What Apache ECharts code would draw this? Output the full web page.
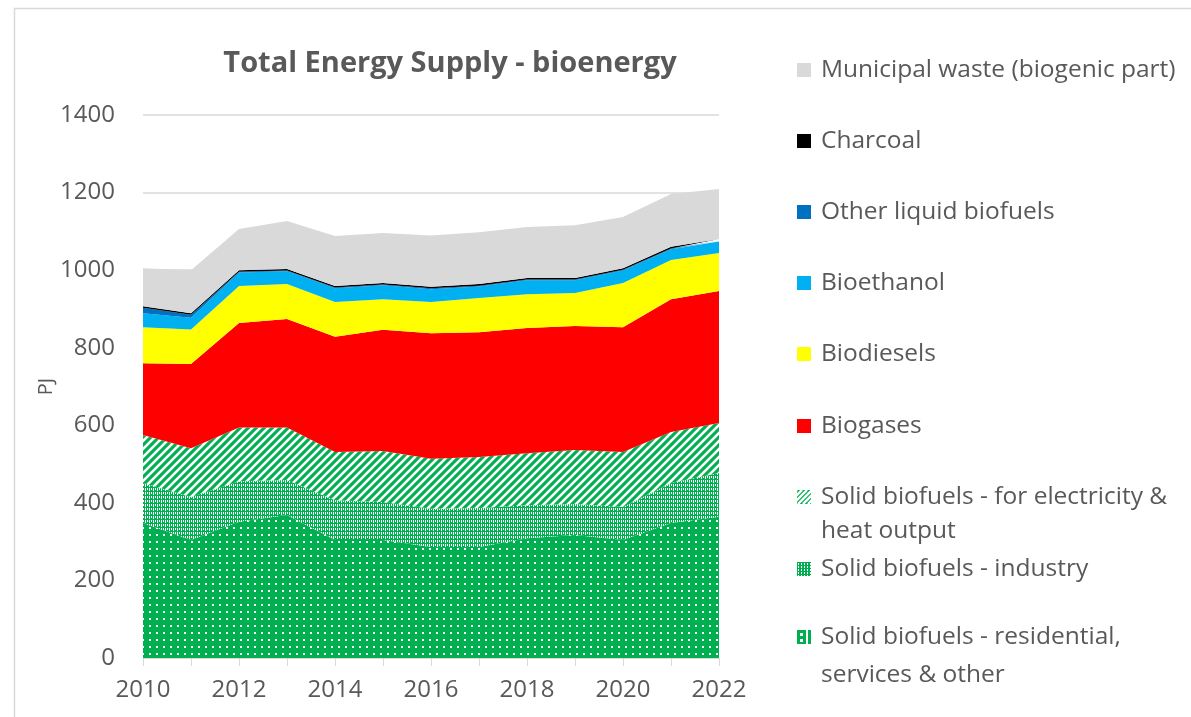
<!DOCTYPE html>
<html>
<head>
<meta charset="utf-8">
<script src="https://cdn.jsdelivr.net/npm/echarts@6/dist/echarts.min.js"></script>
<style>
  html, body { margin: 0; padding: 0; background: #fff; }
  #chart { width: 1191px; height: 717px; }
</style>
</head>
<body>
<div id="chart"></div>
<script>
// data (PJ)
const years = ['2010', '2011', '2012', '2013', '2014', '2015', '2016', '2017', '2018', '2019', '2020', '2021', '2022']
const residential = [348, 304, 351, 369, 304, 304, 286, 286, 309, 317, 304, 348, 364]
const industry = [103, 111, 105, 90, 103, 98, 99, 101, 85, 80, 85, 103, 113]
const elecHeat = [124, 126, 138, 135, 124, 132, 129, 131, 134, 139, 142, 132, 129]
const biogases = [185, 217, 270, 280, 297, 312, 323, 322, 323, 320, 322, 342, 340]
const biodiesels = [93, 89, 95, 90, 90, 79, 81, 88, 87, 85, 114, 101, 98]
const bioethanol = [36, 30, 35, 33, 35, 36, 33, 30, 36, 33, 32, 28, 30]
const otherLiquid = [14, 8, 2, 2, 2, 2, 2, 2, 2, 2, 2, 2, 2]
const charcoal = [4, 4, 4, 4, 4, 4, 4, 4, 4, 4, 4, 4, 4]
const municipalWaste = [98, 111, 106, 124, 129, 129, 132, 134, 131, 136, 132, 136, 129]

const yTicks = [0, 200, 400, 600, 800, 1000, 1200, 1400]

const GREEN = '#00B050'
const TEXT = '#595959'
const FONT = '"Open Sans", sans-serif'

// excel-like fill patterns
const makeTile = (w, h, draw) => {
  const c = document.createElement('canvas')
  c.width = w
  c.height = h
  const ctx = c.getContext('2d')
  ctx.fillStyle = GREEN
  ctx.fillRect(0, 0, w, h)
  ctx.fillStyle = '#fff'
  ctx.strokeStyle = '#fff'
  draw(ctx)
  return { image: c, repeat: 'repeat' }
}

const dotsFill = makeTile(7, 7, ctx => {
  ctx.fillRect(2, 2, 2, 2)
})
const gridFill = makeTile(4, 4, ctx => {
  ctx.fillRect(1, 0, 1, 3)
  ctx.fillRect(3, 0, 1, 2)
})
const stripeFill = makeTile(8, 8, ctx => {
  ctx.lineWidth = 2.6
  ctx.beginPath()
  ctx.moveTo(-1, 9); ctx.lineTo(9, -1)
  ctx.moveTo(-5, 5); ctx.lineTo(5, -5)
  ctx.moveTo(3, 13); ctx.lineTo(13, 3)
  ctx.stroke()
})

// bigger versions for the small legend squares
const dotsIcon = makeTile(14, 14, ctx => {
  ctx.fillRect(3, 3, 3, 3)
  ctx.fillRect(3, 9, 3, 3)
  ctx.fillRect(9, 0, 2, 14)
})
const gridIcon = makeTile(14, 14, ctx => {
  for (let x = 1; x < 14; x += 3) {
    for (let y = 1; y < 14; y += 3) ctx.fillRect(x, y, 1, 2)
  }
})
const stripeIcon = makeTile(14, 14, ctx => {
  ctx.lineWidth = 2.4
  ctx.beginPath()
  for (let k = -14; k <= 28; k += 5) {
    ctx.moveTo(k, 14); ctx.lineTo(k + 14, 0)
  }
  ctx.stroke()
})

// bottom to top
const layers = [
  { name: 'Solid biofuels - residential, services & other', data: residential, color: dotsFill, icon: dotsIcon, lines: ['Solid biofuels - residential,', 'services & other'] },
  { name: 'Solid biofuels - industry', data: industry, color: gridFill, icon: gridIcon, lines: ['Solid biofuels - industry'] },
  { name: 'Solid biofuels - for electricity & heat output', data: elecHeat, color: stripeFill, icon: stripeIcon, lines: ['Solid biofuels - for electricity &', 'heat output'] },
  { name: 'Biogases', data: biogases, color: '#FF0000', lines: ['Biogases'] },
  { name: 'Biodiesels', data: biodiesels, color: '#FFFF00', lines: ['Biodiesels'] },
  { name: 'Bioethanol', data: bioethanol, color: '#00B0F0', lines: ['Bioethanol'] },
  { name: 'Other liquid biofuels', data: otherLiquid, color: '#0070C0', lines: ['Other liquid biofuels'] },
  { name: 'Charcoal', data: charcoal, color: '#000000', lines: ['Charcoal'] },
  { name: 'Municipal waste (biogenic part)', data: municipalWaste, color: '#D9D9D9', lines: ['Municipal waste (biogenic part)'] }
]

// legend line centres, top entry first (second line where there is one)
const legendY = [70, 141, 212, 283, 354, 426, 497, 569, 637]
const legendY2 = [null, null, null, null, null, null, 531, null, 675]
const LINE_H = 30
const LEGEND_FONT = 24.5

const series = layers.map(l => ({
  name: l.name,
  type: 'line',
  stack: 'total',
  data: l.data,
  symbol: 'none',
  silent: true,
  lineStyle: { width: 0 },
  itemStyle: { color: l.color },
  areaStyle: { color: l.color, opacity: 1 }
}))

const legendOrder = layers.slice().reverse()
const legends = legendOrder.map((l, i) => ({
  data: [{ name: l.name, itemStyle: { color: l.icon || l.color, borderWidth: 0 } }],
  icon: 'rect',
  orient: 'vertical',
  left: 797,
  top: legendY[i] - LINE_H / 2,
  itemWidth: 14,
  itemHeight: 14,
  padding: 0,
  selectedMode: false,
  formatter: () => l.lines[0],
  textStyle: { color: TEXT, fontSize: LEGEND_FONT, fontFamily: FONT, lineHeight: LINE_H, padding: [0, 0, 0, 5] }
}))

// second lines of the two-line legend entries
const extraLines = []
legendOrder.forEach((l, i) => {
  if (l.lines.length > 1) {
    extraLines.push({
      type: 'text',
      left: 821,
      top: legendY2[i] - LINE_H / 2,
      style: { text: l.lines[1], fill: TEXT, font: LEGEND_FONT + 'px ' + FONT, lineHeight: LINE_H }
    })
  }
})

const chart = echarts.init(document.getElementById('chart'), null, { renderer: 'canvas' })

chart.setOption({
  animation: false,
  backgroundColor: '#fff',
  title: {
    text: 'Total Energy Supply - bioenergy',
    left: 445,
    top: 44,
    textAlign: 'center',
    textStyle: { color: TEXT, fontSize: 29, fontWeight: 'bold', fontFamily: FONT }
  },
  graphic: [
    {
      type: 'rect',
      shape: { x: 14.5, y: 8.5, width: 1200, height: 720 },
      style: { fill: 'none', stroke: '#D9D9D9', lineWidth: 1.5 },
      silent: true
    }
  ].concat(extraLines),
  legend: legends,
  grid: { left: 143, right: 472, top: 115, bottom: 59 },
  xAxis: {
    type: 'category',
    data: years,
    boundaryGap: false,
    axisLine: { lineStyle: { color: '#D9D9D9', width: 1 } },
    axisTick: { show: true, interval: 0, length: 8, lineStyle: { color: '#D9D9D9' } },
    axisLabel: { interval: 1, color: TEXT, fontSize: 24, fontFamily: FONT, margin: 20 },
    splitLine: { show: false }
  },
  yAxis: {
    type: 'value',
    min: yTicks[0],
    max: yTicks[yTicks.length - 1],
    interval: yTicks[1] - yTicks[0],
    name: 'PJ',
    nameLocation: 'middle',
    nameGap: 76,
    nameRotate: 90,
    nameTextStyle: { color: TEXT, fontSize: 20, fontFamily: FONT },
    axisLine: { show: false },
    axisTick: { show: false },
    axisLabel: { color: TEXT, fontSize: 24, fontFamily: FONT, margin: 28, formatter: v => String(v) },
    splitLine: { lineStyle: { color: '#D9D9D9', width: 1.5 } }
  },
  series: series
})

window.addEventListener('resize', () => {
  chart && chart.resize()
})
</script>
</body>
</html>
